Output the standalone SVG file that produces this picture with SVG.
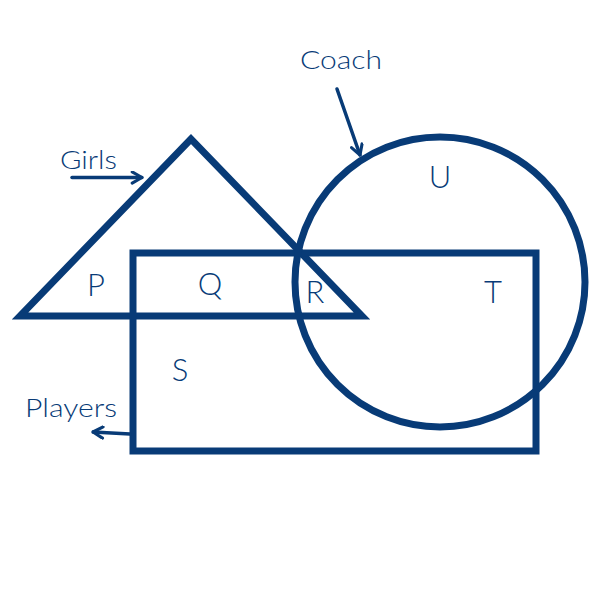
<svg xmlns="http://www.w3.org/2000/svg" width="600" height="600" viewBox="0 0 600 600">
<style>
.shape{fill:none;stroke:#083b77;stroke-width:7;stroke-linejoin:miter}
.conn{fill:none;stroke:#083b77;stroke-width:3.5;stroke-linecap:round}
.lbl{font-family:Lato,"Open Sans",sans-serif;font-weight:300;fill:#083b77}
.big{font-size:31px}
.small{font-size:26px}
</style>
<defs>
<marker id="chev" viewBox="0 0 10 10" refX="9" refY="5" markerWidth="4" markerHeight="4" orient="auto" markerUnits="strokeWidth">
<path d="M2,1 L9,5 L2,9" fill="none" stroke="#083b77" stroke-width="2.2" stroke-linecap="round" stroke-linejoin="round"/>
</marker>
</defs>
<rect width="600" height="600" fill="#fff"/>
<g id="girls">
<polygon class="shape" points="191,139 20,316 362,316"/>
<text class="lbl small" x="60" y="169" textLength="57" lengthAdjust="spacingAndGlyphs">Girls</text>
</g>
<g id="players">
<rect class="shape" x="133" y="253" width="403" height="198"/>
<text class="lbl small" x="25" y="417" textLength="92" lengthAdjust="spacingAndGlyphs">Players</text>
</g>
<g id="coach">
<circle class="shape" cx="440" cy="282" r="145"/>
<text class="lbl small" x="300" y="69" textLength="82" lengthAdjust="spacingAndGlyphs">Coach</text>
</g>
<g id="regions">
<text class="lbl big" x="96" y="296" text-anchor="middle">P</text>
<text class="lbl big" x="210" y="295" text-anchor="middle">Q</text>
<text class="lbl big" x="315" y="303" text-anchor="middle">R</text>
<text class="lbl big" x="180" y="381" text-anchor="middle">S</text>
<text class="lbl big" x="493" y="303" text-anchor="middle">T</text>
<text class="lbl big" x="440" y="188" text-anchor="middle">U</text>
</g>
<g id="connectors">
<line class="conn" x1="72" y1="177.5" x2="142" y2="177.5" marker-end="url(#chev)"/>
<line class="conn" x1="337" y1="89" x2="360" y2="155" marker-end="url(#chev)"/>
<line class="conn" x1="130" y1="434" x2="93" y2="432" marker-end="url(#chev)"/>
</g>
</svg>
